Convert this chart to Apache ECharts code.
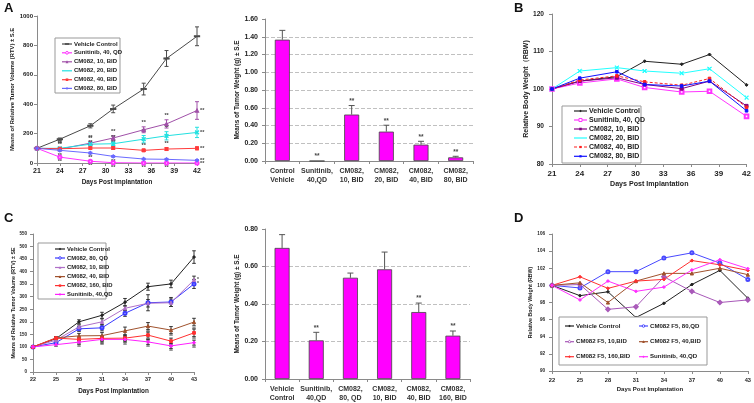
<!DOCTYPE html>
<html><head><meta charset="utf-8">
<script src="https://cdn.jsdelivr.net/npm/echarts@6/dist/echarts.min.js"></script>
<style>html,body{margin:0;padding:0;background:#fff}#c{width:754px;height:403px}</style>
</head><body><div id="c"></div><script>
// ================= DATA =================
const daysAB = [21, 24, 28, 31, 35, 38, 42];
const daysCD = ['22', '25', '28', '31', '34', '37', '40', '43'];

// Panel A – relative tumor volume
const aNames = ['Vehicle Control', 'Sunitinib, 40, QD', 'CM082, 10, BID', 'CM082, 20, BID', 'CM082, 40, BID', 'CM082, 80, BID'];
const aVehicle = [100, 162, 253, 368, 503, 711, 862];
const aVehicleErr = [0, 8, 14, 26, 40, 54, 64];
const aSunitinib = [100, 40, 12, 2, 0, 0, 0];
const aSunitinibErr = [0, 5, 4, 2, 1, 1, 1];
const aCM10 = [100, 95, 135, 170, 226, 266, 357];
const aCM10Err = [0, 6, 10, 15, 20, 28, 60];
const aCM20 = [100, 100, 128, 131, 162, 185, 208];
const aCM20Err = [0, 6, 10, 12, 25, 28, 35];
const aCM40 = [100, 97, 102, 102, 86, 95, 100];
const aCM40Err = [0, 6, 8, 10, 8, 10, 10];
const aCM80 = [100, 86, 68, 45, 27, 25, 18];
const aCM80Err = [0, 6, 6, 6, 5, 6, 5];
const aSigTop = ['', '**', '**', '**', '**', '**', '**'];
const aSigLow = ['', '**', '**', '**', '**', '**', '**'];

// Panel A bar – tumor weight
const aBarCats = ['Control\nVehicle', 'Sunitinib,\n40,QD', 'CM082,\n10, BID', 'CM082,\n20, BID', 'CM082,\n40, BID', 'CM082,\n80, BID'];
const aBarVals = [1.367, 0, 0.523, 0.331, 0.184, 0.041];
const aBarErr = [0.105, 0, 0.102, 0.072, 0.038, 0.012];
const aBarSig = ['', '**', '**', '**', '**', '**'];

// Panel B – relative body weight
const bNames = ['Vehicle Control', 'Sunitinib, 40, QD', 'CM082, 10, BID', 'CM082, 20, BID', 'CM082, 40, BID', 'CM082, 80, BID'];
const bVehicle = [100, 102.1, 103.3, 107.4, 106.6, 109.2, 101.1];
const bSunitinib = [100, 101.6, 102.7, 100.4, 99.2, 99.4, 92.7];
const bCM10 = [100, 102.1, 103.0, 101.2, 100.1, 102.1, 95.5];
const bCM20 = [100, 104.8, 105.7, 104.8, 104.2, 105.4, 97.7];
const bCM40 = [100, 102.4, 103.5, 101.9, 101.0, 102.8, 95.1];
const bCM80 = [100, 102.9, 104.6, 101.2, 100.8, 102.1, 94.2];

// Panel C – relative tumor volume
const cNames = ['Vehicle Control', 'CM082, 80, QD', 'CM082, 10, BID', 'CM082, 40, BID', 'CM082, 160, BID', 'Sunitinib, 40,QD'];
const cVehicle = [100, 133, 200, 226, 278, 340, 351, 458];
const cVehicleErr = [0, 5, 8, 12, 15, 14, 15, 25];
const cCM80 = [100, 117, 172, 176, 234, 276, 279, 351];
const cCM80Err = [0, 5, 10, 12, 12, 32, 18, 18];
const cCM10 = [100, 127, 180, 200, 254, 274, 276, 367];
const cCM10Err = [0, 5, 8, 12, 10, 15, 15, 15];
const cCM40 = [100, 136, 144, 145, 164, 183, 167, 199];
const cCM40Err = [0, 5, 10, 12, 15, 14, 14, 15];
const cCM160 = [100, 135, 130, 134, 135, 147, 123, 156];
const cCM160Err = [0, 5, 10, 10, 10, 12, 12, 15];
const cSunitinib = [100, 109, 119, 130, 130, 120, 104, 117];
const cSunitinibErr = [0, 6, 8, 10, 10, 10, 10, 10];
const cSigLow = ['', '', '**', '**', '**', '**', '**', '**'];
const cSigEnd = ['', '', '', '', '', '', '', '*'];

// Panel C bar – tumor weight
const cBarCats = ['Vehicle\nControl', 'Sunitinib,\n40,QD', 'CM082,\n80, QD', 'CM082,\n10, BID', 'CM082,\n40, BID', 'CM082,\n160, BID'];
const cBarVals = [0.699, 0.206, 0.540, 0.585, 0.357, 0.231];
const cBarErr = [0.071, 0.043, 0.025, 0.092, 0.048, 0.025];
const cBarSig = ['', '**', '', '', '**', '**'];

// Panel D – relative body weight
const dNames = ['Vehicle Control', 'CM082 F5, 80,QD', 'CM082 F5, 10,BID', 'CM082 F5, 40,BID', 'CM082 F5, 160,BID', 'Sunitinib, 40,QD'];
const dVehicle = [100, 98.8, 99.25, 96.25, 97.9, 100.1, 101.75, 98.5];
const dCM80 = [100, 99.7, 101.6, 101.6, 103.2, 103.8, 102.6, 100.7];
const dCM10 = [100, 100.1, 97.2, 97.5, 101.0, 99.3, 98.0, 98.3];
const dCM40 = [100, 100.3, 98.0, 100.5, 101.4, 101.4, 102.0, 101.25];
const dCM160 = [100, 101.0, 99.65, 100.5, 100.7, 102.9, 102.4, 101.75];
const dSunitinib = [100, 98.3, 100.5, 99.3, 99.8, 101.8, 103.0, 101.95];

// ================= STYLE / HELPERS =================
const F = '"Liberation Sans", Arial, sans-serif';
const TXT = '#222';
const XPATH = 'path://M0,1L1,0L5,4L9,0L10,1L6,5L10,9L9,10L5,6L1,10L0,9L4,5Z';

function errSeries(gi, xs, ys, errs, color, opt) {
  opt = opt || {};
  const data = ys.map((y, i) => [xs ? xs[i] : i, y, errs[i]]);
  return {
    type: 'custom', xAxisIndex: gi, yAxisIndex: gi, z: 3, silent: true, animation: false,
    data, encode: { x: 0, y: 1 },
    renderItem(params, api) {
      const i = params.dataIndex;
      const x = api.value(0), y = api.value(1), e = api.value(2);
      const p = api.coord([x, y]);
      const t = api.coord([x, y + e]);
      const b = opt.onlyUp ? p : api.coord([x, y - e]);
      const w = opt.cap || 2;
      const ch = [];
      if (e > 0) {
        ch.push({ type: 'line', shape: { x1: t[0], y1: t[1], x2: b[0], y2: b[1] }, style: { stroke: color, lineWidth: 1 } });
        ch.push({ type: 'line', shape: { x1: t[0] - w, y1: t[1], x2: t[0] + w, y2: t[1] }, style: { stroke: color, lineWidth: 1 } });
        if (!opt.onlyUp) ch.push({ type: 'line', shape: { x1: b[0] - w, y1: b[1], x2: b[0] + w, y2: b[1] }, style: { stroke: color, lineWidth: 1 } });
      }
      const s = opt.sig && opt.sig[i];
      if (s) {
        let tx = t[0], ty = t[1] - 1, al = 'center', va = 'bottom';
        const last = i === data.length - 1;
        if (last && opt.endRight) { tx = p[0] + 3; ty = p[1]; al = 'left'; va = 'middle'; }
        else if (opt.below) { tx = b[0]; ty = b[1] + 1; va = 'top'; }
        ch.push({ type: 'text', style: { x: tx, y: ty, text: s, fill: '#444', font: 'bold ' + (opt.sigSize || 6) + 'px ' + F, align: al, verticalAlign: va } });
      }
      return { type: 'group', children: ch };
    }
  };
}

function lineSeries(gi, name, xs, ys, color, symbol, size, extra) {
  return Object.assign({
    type: 'line', name, xAxisIndex: gi, yAxisIndex: gi,
    data: xs ? ys.map((y, i) => [xs[i], y]) : ys,
    symbol, symbolSize: size, showSymbol: true, silent: true, animation: false, z: 4,
    lineStyle: { color, width: 1 },
    itemStyle: { color, borderColor: color, borderWidth: 1 }
  }, extra || {});
}

function axisCommon(fs) {
  return {
    axisLine: { show: true, lineStyle: { color: '#8a8a8a', width: 1 } },
    axisTick: { show: true, length: 3, lineStyle: { color: '#8a8a8a' } },
    splitLine: { show: false },
    axisLabel: { fontFamily: F, fontWeight: 'bold', color: TXT, fontSize: fs },
    nameTextStyle: { fontFamily: F, fontWeight: 'bold', color: TXT }
  };
}
function merge(a, b) {
  const o = Object.assign({}, a);
  for (const k in b) {
    if (b[k] && typeof b[k] === 'object' && !Array.isArray(b[k]) && a[k] && typeof a[k] === 'object') o[k] = Object.assign({}, a[k], b[k]);
    else o[k] = b[k];
  }
  return o;
}

function markerEl(sym, cx, cy, color, r) {
  if (sym === 'emptyCircle') return { type: 'circle', shape: { cx, cy, r }, style: { fill: '#fff', stroke: color, lineWidth: 1 } };
  if (sym === 'circle') return { type: 'circle', shape: { cx, cy, r }, style: { fill: color } };
  if (sym === 'rect') return { type: 'rect', shape: { x: cx - r, y: cy - r, width: 2 * r, height: 2 * r }, style: { fill: color } };
  if (sym === 'emptyRect') return { type: 'rect', shape: { x: cx - r, y: cy - r, width: 2 * r, height: 2 * r }, style: { fill: '#fff', stroke: color, lineWidth: 1 } };
  if (sym === 'dash') return { type: 'rect', shape: { x: cx - r, y: cy - 0.8, width: 2 * r, height: 1.6 }, style: { fill: color } };
  if (sym === 'triangle') return { type: 'polygon', shape: { points: [[cx, cy - r], [cx + r, cy + r], [cx - r, cy + r]] }, style: { fill: color } };
  if (sym === 'diamond') return { type: 'polygon', shape: { points: [[cx, cy - r], [cx + r, cy], [cx, cy + r], [cx - r, cy]] }, style: { fill: color } };
  if (sym === 'emptyDiamond') return { type: 'polygon', shape: { points: [[cx, cy - r], [cx + r, cy], [cx, cy + r], [cx - r, cy]] }, style: { fill: '#fff', stroke: color, lineWidth: 1 } };
  if (sym === 'x') return { type: 'group', children: [
    { type: 'line', shape: { x1: cx - r, y1: cy - r, x2: cx + r, y2: cy + r }, style: { stroke: color, lineWidth: 1.2 } },
    { type: 'line', shape: { x1: cx - r, y1: cy + r, x2: cx + r, y2: cy - r }, style: { stroke: color, lineWidth: 1.2 } }] };
  return { type: 'circle', shape: { cx, cy, r }, style: { fill: color } };
}

// legend: box + items at given positions
function legend(box, items, names, styles, fs, lineLen) {
  const els = [{ type: 'rect', shape: box, style: { fill: '#fff', stroke: '#999', lineWidth: 1 }, z: 50 }];
  items.forEach((pos, i) => {
    const st = styles[i];
    els.push({ type: 'line', z: 51, shape: { x1: pos[0], y1: pos[1], x2: pos[0] + lineLen, y2: pos[1] }, style: { stroke: st.c, lineWidth: 1.2, lineDash: st.dash ? [3, 2] : null } });
    const m = markerEl(st.s, pos[0] + lineLen / 2, pos[1], st.c, (st.r || 2) * 0.85);
    m.z = 52; els.push(m);
    els.push({ type: 'text', z: 52, style: { x: pos[0] + lineLen + 2, y: pos[1], text: names[i], fill: TXT, font: 'bold ' + fs + 'px ' + F, verticalAlign: 'middle' } });
  });
  return els;
}

// ---- series styles ----
const aSt = [
  { c: '#4a4a4a', s: 'dash', r: 2.5 }, { c: '#ff33ff', s: 'emptyCircle', r: 1.6 }, { c: '#a050a8', s: 'triangle', r: 1.7 },
  { c: '#22e0e0', s: 'x', r: 1.7 }, { c: '#ff3b3b', s: 'rect', r: 1.5 }, { c: '#6a6aff', s: 'diamond', r: 1.7 }
];
const bSt = [
  { c: '#222222', s: 'diamond', r: 1.5 }, { c: '#ff33ff', s: 'emptyRect', r: 1.8 }, { c: '#800080', s: 'rect', r: 1.5 },
  { c: '#22ffff', s: 'x', r: 1.9 }, { c: '#ff2020', s: 'rect', r: 1.3, dash: true }, { c: '#1010ff', s: 'rect', r: 1.3 }
];
const cSt = [
  { c: '#222222', s: 'diamond', r: 1.5 }, { c: '#3a3aff', s: 'emptyCircle', r: 1.5 }, { c: '#b070c8', s: 'triangle', r: 1.6 },
  { c: '#a0522d', s: 'triangle', r: 1.6 }, { c: '#ff3030', s: 'rect', r: 1.4 }, { c: '#ff20ff', s: 'diamond', r: 1.6 }
];
const dSt = [
  { c: '#222222', s: 'diamond', r: 1.5 }, { c: '#4848ff', s: 'emptyCircle', r: 1.5 }, { c: '#a858b8', s: 'emptyDiamond', r: 1.7 },
  { c: '#a0522d', s: 'triangle', r: 1.6 }, { c: '#ff3030', s: 'diamond', r: 1.6 }, { c: '#ff30ff', s: 'diamond', r: 1.5 }
];
function sym(st) {
  const map = { dash: 'rect', emptyRect: 'emptyRect', x: XPATH, emptyDiamond: 'emptyDiamond' };
  return map[st.s] || st.s;
}
function symSize(st) { return st.s === 'dash' ? [4.5, 1.4] : (st.r || 2) * 2; }

// ================= OPTION =================
const grids = [
  { left: 37, top: 16, width: 160, height: 147 },   // A line
  { left: 265, top: 19, width: 208, height: 142 },  // A bar
  { left: 552, top: 14, width: 197, height: 150 },  // B line
  { left: 33, top: 234, width: 161, height: 138 },  // C line
  { left: 265, top: 229, width: 205, height: 150 }, // C bar
  { left: 552, top: 234, width: 197, height: 137 }  // D line
];

const xAxis = [
  merge(axisCommon(7), { gridIndex: 0, type: 'value', min: 21, max: 42, interval: 3, axisLabel: { margin: 5, fontSize: 7 },
    name: 'Days Post Implantation', nameLocation: 'middle', nameGap: 16, nameTextStyle: { fontSize: 6.4 } }),
  merge(axisCommon(7), { gridIndex: 1, type: 'category', data: aBarCats, axisLabel: { margin: 6, fontSize: 7, lineHeight: 8.5, interval: 0, color: '#333' },
    axisTick: { length: 3 } }),
  merge(axisCommon(8), { gridIndex: 2, type: 'value', min: 21, max: 42, interval: 3, axisLabel: { margin: 6, fontSize: 8 },
    name: 'Days Post Implantation', nameLocation: 'middle', nameGap: 17, nameTextStyle: { fontSize: 7.1 } }),
  merge(axisCommon(5.4), { gridIndex: 3, type: 'category', boundaryGap: false, data: daysCD, axisLabel: { margin: 5, fontSize: 5.4 },
    name: 'Days Post Implantation', nameLocation: 'middle', nameGap: 16, nameTextStyle: { fontSize: 6.4 } }),
  merge(axisCommon(7), { gridIndex: 4, type: 'category', data: cBarCats, axisLabel: { margin: 6, fontSize: 7, lineHeight: 8.5, interval: 0, color: '#333' } }),
  merge(axisCommon(5.7), { gridIndex: 5, type: 'category', boundaryGap: false, data: daysCD, axisLabel: { margin: 6, fontSize: 5.7 },
    name: 'Days Post Implantation', nameLocation: 'middle', nameGap: 15, nameTextStyle: { fontSize: 6 } })
];

const yAxis = [
  merge(axisCommon(6), { gridIndex: 0, type: 'value', min: 0, max: 1000, interval: 200, axisLabel: { margin: 4, fontSize: 6, formatter: v => String(v) },
    name: 'Means of Relative Tumor Volume (RTV) ± S.E', nameLocation: 'middle', nameGap: 19, nameTextStyle: { fontSize: 5.8 } }),
  merge(axisCommon(7), { gridIndex: 1, type: 'value', min: 0, max: 1.6, interval: 0.2, axisLabel: { margin: 7, fontSize: 7, formatter: v => v.toFixed(2) },
    splitLine: { show: true, showMaxLine: false, showMinLine: false, lineStyle: { type: 'dashed', color: '#c0c0c0' } },
    name: 'Means of Tumor Weight (g) ± S.E', nameLocation: 'middle', nameGap: 22, nameTextStyle: { fontSize: 6.4 } }),
  merge(axisCommon(6.6), { gridIndex: 2, type: 'value', min: 80, max: 120, interval: 10, axisLabel: { margin: 8, fontSize: 6.6 },
    name: 'Relative Body Weight（RBW)', nameLocation: 'middle', nameGap: 17, nameTextStyle: { fontSize: 7 } }),
  merge(axisCommon(4.5), { gridIndex: 3, type: 'value', min: 0, max: 550, interval: 50, axisLabel: { margin: 6, fontSize: 4.5 },
    name: 'Means of Relative Tumor Volume (RTV) ± SE', nameLocation: 'middle', nameGap: 16, nameTextStyle: { fontSize: 5.3 } }),
  merge(axisCommon(7), { gridIndex: 4, type: 'value', min: 0, max: 0.8, interval: 0.2, axisLabel: { margin: 7, fontSize: 7, formatter: v => v.toFixed(2) },
    splitLine: { show: true, showMaxLine: false, showMinLine: false, lineStyle: { type: 'dashed', color: '#c0c0c0' } },
    name: 'Means of Tumor Weight (g) ± S.E', nameLocation: 'middle', nameGap: 22, nameTextStyle: { fontSize: 6.4 } }),
  merge(axisCommon(4.6), { gridIndex: 5, type: 'value', min: 90, max: 106, interval: 2, axisLabel: { margin: 7, fontSize: 4.6 },
    name: 'Relative Body Weight (RBW)', nameLocation: 'middle', nameGap: 19, nameTextStyle: { fontSize: 5.3 } })
];

const series = [];
// Panel A lines
const aY = [aVehicle, aSunitinib, aCM10, aCM20, aCM40, aCM80];
const aE = [aVehicleErr, aSunitinibErr, aCM10Err, aCM20Err, aCM40Err, aCM80Err];
const aSigs = [null, aSigLow, aSigTop, aSigTop, aSigTop, aSigLow];
aY.forEach((ys, k) => {
  series.push(lineSeries(0, aNames[k], daysAB, ys, aSt[k].c, sym(aSt[k]), symSize(aSt[k])));
  series.push(errSeries(0, daysAB, ys, aE[k], aSt[k].c, { sig: aSigs[k], endRight: true, below: k === 5 || k === 1, sigSize: 5.5 }));
});
// Panel A bar
series.push({ type: 'bar', xAxisIndex: 1, yAxisIndex: 1, data: aBarVals, barWidth: 15, silent: true, animation: false,
  itemStyle: { color: '#ff00ff', borderColor: '#444', borderWidth: 0.8 } });
series.push(errSeries(1, null, aBarVals, aBarErr, '#555', { onlyUp: true, sig: aBarSig, cap: 3, sigSize: 6.5 }));
// Panel B lines
const bY = [bVehicle, bSunitinib, bCM10, bCM20, bCM40, bCM80];
bY.forEach((ys, k) => {
  series.push(lineSeries(2, bNames[k], daysAB, ys, bSt[k].c, sym(bSt[k]), symSize(bSt[k]),
    bSt[k].dash ? { lineStyle: { color: bSt[k].c, width: 1, type: [3, 2] } } : null));
});
// Panel C lines
const cY = [cVehicle, cCM80, cCM10, cCM40, cCM160, cSunitinib];
const cE = [cVehicleErr, cCM80Err, cCM10Err, cCM40Err, cCM160Err, cSunitinibErr];
cY.forEach((ys, k) => {
  series.push(lineSeries(3, cNames[k], null, ys, cSt[k].c, sym(cSt[k]), symSize(cSt[k])));
  const o = (k >= 3) ? { sig: cSigLow, below: true, sigSize: 4.5 } : (k === 1 || k === 2) ? { sig: cSigEnd, endRight: true, sigSize: 5 } : {};
  series.push(errSeries(3, null, ys, cE[k], '#333', Object.assign({ cap: 1.8 }, o)));
});
// Panel C bar
series.push({ type: 'bar', xAxisIndex: 4, yAxisIndex: 4, data: cBarVals, barWidth: 15, silent: true, animation: false,
  itemStyle: { color: '#ff00ff', borderColor: '#444', borderWidth: 0.8 } });
series.push(errSeries(4, null, cBarVals, cBarErr, '#555', { onlyUp: true, sig: cBarSig, cap: 3, sigSize: 6.5 }));
// Panel D lines
const dY = [dVehicle, dCM80, dCM10, dCM40, dCM160, dSunitinib];
dY.forEach((ys, k) => {
  series.push(lineSeries(5, dNames[k], null, ys, dSt[k].c, sym(dSt[k]), symSize(dSt[k])));
});

// Graphic: panel letters & legends
const graphic = [
  { type: 'text', style: { x: 4, y: 2, text: 'A', font: 'bold 13px ' + F, fill: '#111' } },
  { type: 'text', style: { x: 514, y: 2, text: 'B', font: 'bold 13px ' + F, fill: '#111' } },
  { type: 'text', style: { x: 4, y: 212, text: 'C', font: 'bold 13px ' + F, fill: '#111' } },
  { type: 'text', style: { x: 514, y: 212, text: 'D', font: 'bold 13px ' + F, fill: '#111' } }
];
graphic.push(...legend({ x: 55, y: 38, width: 65, height: 55 },
  [[62, 44], [62, 52.8], [62, 61.8], [62, 70.8], [62, 79.7], [62, 88.4]], aNames, aSt, 6, 10));
graphic.push(...legend({ x: 562, y: 106, width: 79, height: 57 },
  [[574, 111], [574, 120], [574, 129], [574, 138], [574, 147], [574, 156.3]], bNames, bSt, 7, 13));
graphic.push(...legend({ x: 38, y: 243, width: 68, height: 56 },
  [[55, 249], [55, 258], [55, 267.5], [55, 276.6], [55, 285.6], [55, 294.4]], cNames, cSt, 5.9, 10));
graphic.push(...legend({ x: 559, y: 317, width: 148, height: 48 },
  [[565, 326], [639, 326], [565, 341.7], [639, 341.7], [565, 356.7], [639, 356.7]], dNames, dSt, 6.1, 9));

const chart = echarts.init(document.getElementById('c'), null, { renderer: 'canvas' });
chart.setOption({ animation: false, backgroundColor: '#fff', grid: grids, xAxis, yAxis, series, graphic });
</script></body></html>
